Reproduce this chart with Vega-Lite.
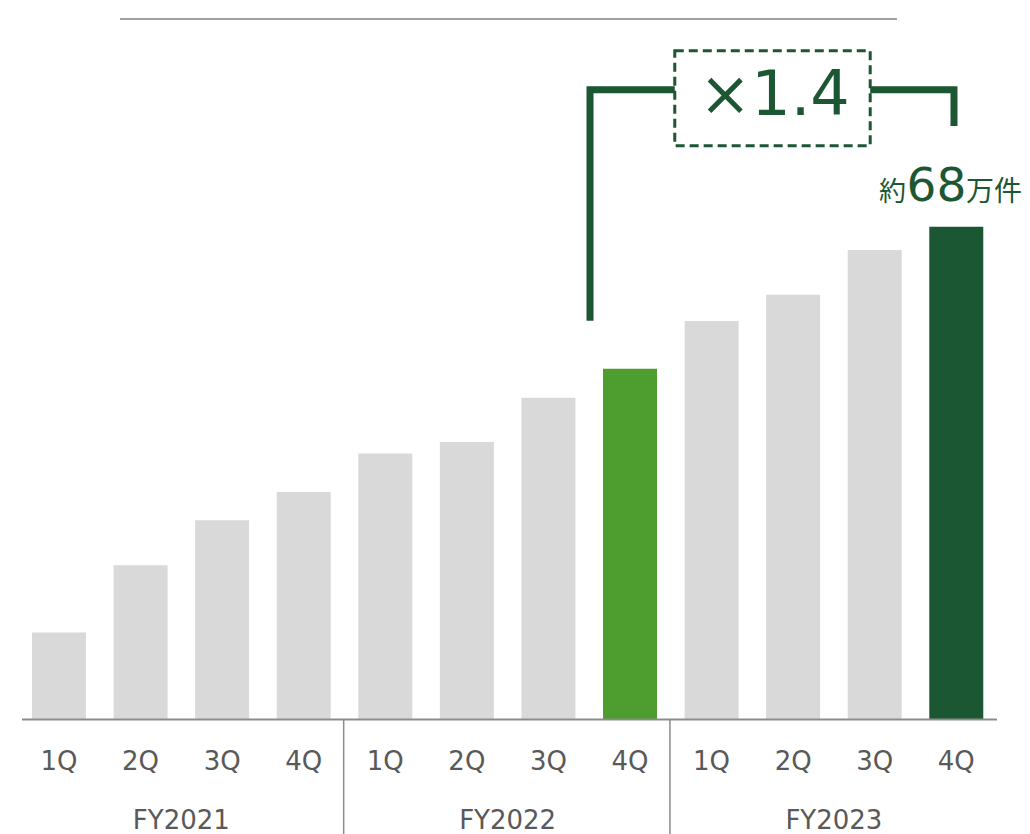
{
  "$schema": "https://vega.github.io/schema/vega-lite/v6.json",
  "width": 1030,
  "height": 834,
  "autosize": {"type": "none"},
  "padding": 0,
  "background": "white",
  "config": {"view": {"stroke": null}, "font": "DejaVu Sans"},
  "datasets": {
    "bars": [
      {"key": "FY2021-1Q", "fy": "FY2021", "q": "1Q", "v": 12.0, "type": "base"},
      {"key": "FY2021-2Q", "fy": "FY2021", "q": "2Q", "v": 21.3, "type": "base"},
      {"key": "FY2021-3Q", "fy": "FY2021", "q": "3Q", "v": 27.5, "type": "base"},
      {"key": "FY2021-4Q", "fy": "FY2021", "q": "4Q", "v": 31.4, "type": "base"},
      {"key": "FY2022-1Q", "fy": "FY2022", "q": "1Q", "v": 36.7, "type": "base"},
      {"key": "FY2022-2Q", "fy": "FY2022", "q": "2Q", "v": 38.3, "type": "base"},
      {"key": "FY2022-3Q", "fy": "FY2022", "q": "3Q", "v": 44.4, "type": "base"},
      {"key": "FY2022-4Q", "fy": "FY2022", "q": "4Q", "v": 48.4, "type": "prev"},
      {"key": "FY2023-1Q", "fy": "FY2023", "q": "1Q", "v": 55.0, "type": "base"},
      {"key": "FY2023-2Q", "fy": "FY2023", "q": "2Q", "v": 58.6, "type": "base"},
      {"key": "FY2023-3Q", "fy": "FY2023", "q": "3Q", "v": 64.8, "type": "base"},
      {"key": "FY2023-4Q", "fy": "FY2023", "q": "4Q", "v": 68.0, "type": "latest"}
    ],
    "fy": [
      {"fy": "FY2021", "c": 1.5},
      {"fy": "FY2022", "c": 5.5},
      {"fy": "FY2023", "c": 9.5}
    ],
    "seps": [{"x": 3.49}, {"x": 7.49}],
    "baseline": [{"x1": -0.4536, "x2": 11.499, "y": 0}],
    "topline": [{"x1": 0.748, "x2": 10.273, "y": 96.66}],
    "bracket": [
      {"seg": "L", "ord": 1, "x": 6.51, "y": 55.03},
      {"seg": "L", "ord": 2, "x": 6.51, "y": 86.91},
      {"seg": "L", "ord": 3, "x": 7.549, "y": 86.91},
      {"seg": "R", "ord": 1, "x": 9.945, "y": 86.91},
      {"seg": "R", "ord": 2, "x": 10.972, "y": 86.91},
      {"seg": "R", "ord": 3, "x": 10.972, "y": 81.9}
    ],
    "box": [{"x1": 7.549, "x2": 9.945, "y1": 92.28, "y2": 79.17}],
    "ratio": [{"x": 8.772, "y": 83.41, "t": "×1.4"}],
    "big": [{"x": 10.757, "y": 71.59, "t": "68"}],
    "pre": [{"x": 10.384, "y": 71.59, "t": "約"}],
    "post": [{"x": 11.12, "y": 71.59, "t": "万件"}]
  },
  "layer": [
    {
      "layer": [
        {
          "data": {"name": "bars"},
          "mark": {"type": "bar"},
          "encoding": {
            "x": {
              "field": "key", "type": "nominal", "sort": null,
              "scale": {"paddingInner": 0.338, "paddingOuter": 0.4826, "align": 0.4066},
              "axis": null
            },
            "y": {
              "field": "v", "type": "quantitative",
              "scale": {"domain": [-15.8, 99.28], "nice": false, "zero": false},
              "axis": null
            },
            "y2": {"datum": 0},
            "color": {
              "field": "type", "type": "nominal",
              "scale": {"domain": ["base", "prev", "latest"], "range": ["#d9d9d9", "#4e9d2f", "#1c5733"]},
              "legend": null
            }
          }
        },
        {
          "data": {"name": "bars"},
          "mark": {"type": "text", "fontSize": 26, "color": "#595959", "align": "center", "baseline": "alphabetic"},
          "encoding": {
            "x": {"field": "key", "type": "nominal", "sort": null},
            "y": {"datum": -6.97},
            "text": {"field": "q"}
          }
        }
      ]
    },
    {
      "layer": [
        {
          "data": {"name": "baseline"},
          "mark": {"type": "rule", "stroke": "#8c8c8c", "strokeWidth": 2},
          "encoding": {
            "x": {
              "field": "x1", "type": "quantitative",
              "scale": {"domain": [-0.7233, 11.904], "nice": false, "zero": false},
              "axis": null
            },
            "x2": {"field": "x2"},
            "y": {"field": "y", "type": "quantitative"}
          }
        },
        {
          "data": {"name": "seps"},
          "mark": {"type": "rule", "stroke": "#8c8c8c", "strokeWidth": 1.5},
          "encoding": {
            "x": {"field": "x", "type": "quantitative"},
            "y": {"datum": 0},
            "y2": {"datum": -15.8}
          }
        },
        {
          "data": {"name": "topline"},
          "mark": {"type": "rule", "stroke": "#808080", "strokeWidth": 1.5},
          "encoding": {
            "x": {"field": "x1", "type": "quantitative"},
            "x2": {"field": "x2"},
            "y": {"field": "y", "type": "quantitative"}
          }
        },
        {
          "data": {"name": "fy"},
          "mark": {"type": "text", "fontSize": 26, "color": "#595959", "align": "center", "baseline": "alphabetic"},
          "encoding": {
            "x": {"field": "c", "type": "quantitative"},
            "y": {"datum": -15.11},
            "text": {"field": "fy"}
          }
        },
        {
          "data": {"name": "bracket"},
          "mark": {"type": "line", "stroke": "#1c5733", "strokeWidth": 7, "strokeJoin": "miter", "strokeCap": "butt"},
          "encoding": {
            "x": {"field": "x", "type": "quantitative"},
            "y": {"field": "y", "type": "quantitative"},
            "detail": {"field": "seg"},
            "order": {"field": "ord"}
          }
        },
        {
          "data": {"name": "box"},
          "mark": {"type": "rect", "fill": null, "stroke": "#1c5733", "strokeWidth": 3, "strokeDash": [9, 5]},
          "encoding": {
            "x": {"field": "x1", "type": "quantitative"},
            "x2": {"field": "x2"},
            "y": {"field": "y1", "type": "quantitative"},
            "y2": {"field": "y2"}
          }
        },
        {
          "data": {"name": "ratio"},
          "mark": {"type": "text", "fontSize": 62, "color": "#1c5733", "align": "center", "baseline": "alphabetic"},
          "encoding": {
            "x": {"field": "x", "type": "quantitative"},
            "y": {"field": "y", "type": "quantitative"},
            "text": {"field": "t"}
          }
        },
        {
          "data": {"name": "big"},
          "mark": {"type": "text", "fontSize": 47, "color": "#1c5733", "align": "center", "baseline": "alphabetic"},
          "encoding": {
            "x": {"field": "x", "type": "quantitative"},
            "y": {"field": "y", "type": "quantitative"},
            "text": {"field": "t"}
          }
        },
        {
          "data": {"name": "pre"},
          "mark": {"type": "text", "fontSize": 27, "font": "Noto Sans CJK JP", "color": "#1c5733", "align": "right", "baseline": "alphabetic"},
          "encoding": {
            "x": {"field": "x", "type": "quantitative"},
            "y": {"field": "y", "type": "quantitative"},
            "text": {"field": "t"}
          }
        },
        {
          "data": {"name": "post"},
          "mark": {"type": "text", "fontSize": 28, "font": "Noto Sans CJK JP", "color": "#1c5733", "align": "left", "baseline": "alphabetic"},
          "encoding": {
            "x": {"field": "x", "type": "quantitative"},
            "y": {"field": "y", "type": "quantitative"},
            "text": {"field": "t"}
          }
        }
      ]
    }
  ],
  "resolve": {"scale": {"x": "independent"}}
}
